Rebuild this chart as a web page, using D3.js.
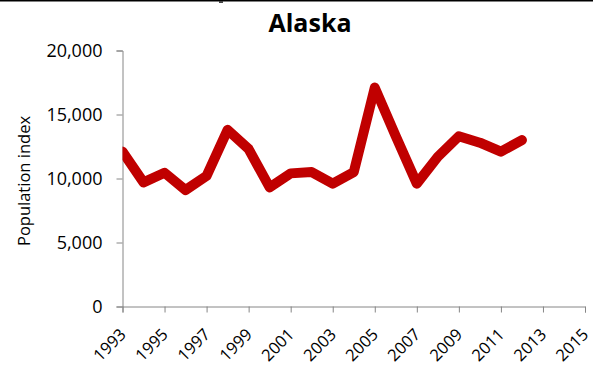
<!DOCTYPE html>
<html>
<head>
<meta charset="utf-8">
<script src="https://cdn.jsdelivr.net/npm/d3@7"></script>
<style>
  html, body { margin: 0; padding: 0; background: #fff; }
  svg { display: block; }
  text { font-family: "Open Sans", "DejaVu Sans", sans-serif; fill: #000; }
</style>
</head>
<body>
<script>
// Alaska population index by survey year
const years = [1993, 1994, 1995, 1996, 1997, 1998, 1999, 2000, 2001, 2002,
               2003, 2004, 2005, 2006, 2007, 2008, 2009, 2010, 2011, 2012];
const populationIndex = [12100, 9700, 10450, 9100, 10200, 13800, 12300, 9300, 10400, 10500,
                         9600, 10500, 17100, 13300, 9600, 11700, 13300, 12800, 12100, 13000];
const yTickValues = [0, 5000, 10000, 15000, 20000];
const xTickValues = [1993, 1995, 1997, 1999, 2001, 2003, 2005, 2007, 2009, 2011, 2013, 2015];

const W = 603, H = 367;
const plot = { left: 122.5, right: 585, top: 50.5, bottom: 306.5 };

const svg = d3.select("body").append("svg")
  .attr("width", W).attr("height", H);

// thin frame edge across the top
svg.append("line")
  .attr("x1", 0).attr("x2", 593).attr("y1", 0.5).attr("y2", 0.5)
  .attr("stroke", "#000").attr("stroke-width", 2);
svg.append("rect")
  .attr("x", 219).attr("y", 1).attr("width", 4).attr("height", 2)
  .attr("fill", "#444");

const x = d3.scaleLinear().domain([1993, 2015]).range([plot.left, plot.right]);
const y = d3.scaleLinear().domain([0, 20000]).range([plot.bottom, plot.top]);

const axisColor = "#868686";

// y axis
const yAxis = svg.append("g")
  .attr("transform", `translate(${plot.left},0)`)
  .call(d3.axisLeft(y).tickValues(yTickValues).tickSize(6).tickPadding(14)
    .tickFormat(d3.format(",")));
yAxis.select(".domain").attr("stroke", axisColor);
yAxis.selectAll(".tick line").attr("stroke", axisColor);
yAxis.selectAll(".tick text")
  .style("font-size", "18px").attr("fill", "#000");

// x axis
const xAxis = svg.append("g")
  .attr("transform", `translate(0,${plot.bottom})`)
  .call(d3.axisBottom(x).tickValues(xTickValues).tickSize(6).tickFormat(d3.format("d")));
xAxis.select(".domain").attr("stroke", axisColor);
xAxis.selectAll(".tick line").attr("stroke", axisColor);
xAxis.selectAll(".tick text")
  .style("font-size", "16.5px").attr("fill", "#000")
  .attr("text-anchor", "end")
  .attr("dy", null)
  .attr("y", 0)
  .attr("transform", "translate(4,29) rotate(-45)");

// title
svg.append("text")
  .attr("x", 310).attr("y", 32)
  .attr("text-anchor", "middle")
  .style("font-size", "25px").style("font-weight", "bold")
  .text("Alaska");

// y axis title
svg.append("text")
  .attr("transform", "translate(30,181) rotate(-90)")
  .attr("text-anchor", "middle")
  .style("font-size", "16.5px")
  .text("Population index");

// plot-area clip so the thick line starts flush with the axis
svg.append("clipPath").attr("id", "plot-clip")
  .append("rect")
  .attr("x", plot.left).attr("y", 0)
  .attr("width", W - plot.left).attr("height", H);

const data = years.map((yr, i) => ({ year: yr, value: populationIndex[i] }));
const line = d3.line().x(d => x(d.year)).y(d => y(d.value));

svg.append("path")
  .datum(data)
  .attr("clip-path", "url(#plot-clip)")
  .attr("d", line)
  .attr("fill", "none")
  .attr("stroke", "#C00000")
  .attr("stroke-width", 10)
  .attr("stroke-linejoin", "round")
  .attr("stroke-linecap", "round");
</script>
</body>
</html>
